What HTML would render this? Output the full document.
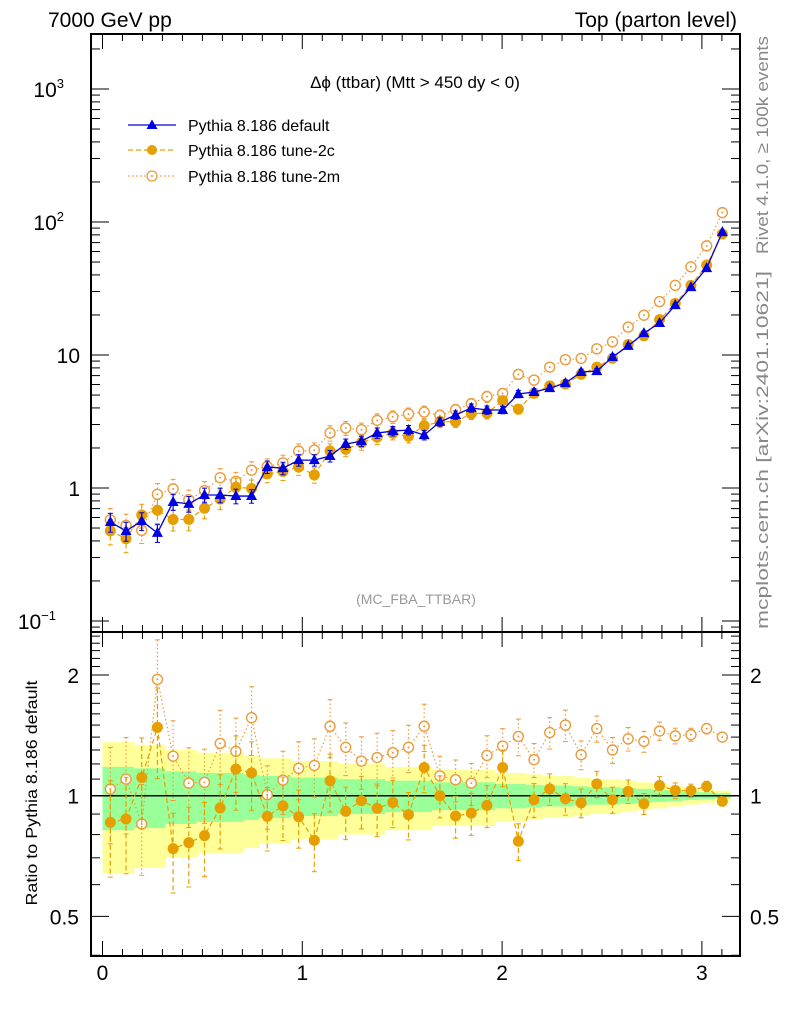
<!DOCTYPE html>
<html><head><meta charset="utf-8"><style>
html,body{margin:0;padding:0;background:#fff;}
svg{display:block;font-family:"Liberation Sans",sans-serif;}
</style></head><body>
<svg id="c" width="786" height="1024" viewBox="0 0 786 1024">
<text x="48" y="27" font-size="21">7000 GeV pp</text>
<text x="737" y="27" font-size="21" text-anchor="end">Top (parton level)</text>
<text x="415" y="88" font-size="17" text-anchor="middle">Δϕ (ttbar) (Mtt &gt; 450 dy &lt; 0)</text>
<text x="416" y="604" font-size="14" fill="#999" text-anchor="middle">(MC_FBA_TTBAR)</text>
<text transform="translate(768,145) rotate(-90)" font-size="17" fill="#888" text-anchor="middle" textLength="218" lengthAdjust="spacingAndGlyphs">Rivet 4.1.0, ≥ 100k events</text>
<text transform="translate(768,450) rotate(-90)" font-size="17" fill="#888" text-anchor="middle" textLength="358" lengthAdjust="spacingAndGlyphs">mcplots.cern.ch [arXiv:2401.10621]</text>
<text transform="translate(37,793) rotate(-90)" font-size="16" text-anchor="middle" textLength="225" lengthAdjust="spacingAndGlyphs">Ratio to Pythia 8.186 default</text>
<g id="bands"></g>
<g id="marks"></g>
<g id="axes"></g>
<g>
<g>
<line x1="128" y1="125" x2="176" y2="125" stroke="#0000e0" stroke-width="1.3"/>
<polygon points="152,119.5 146.5,129 157.5,129" fill="#0000e0"/>
<text x="188" y="131" font-size="16">Pythia 8.186 default</text></g>
<g>
<line x1="128" y1="150" x2="176" y2="150" stroke="#e69f00" stroke-width="1.3" stroke-dasharray="5,3"/>
<circle cx="152" cy="150" r="5" fill="#e69f00"/>
<text x="188" y="156" font-size="16">Pythia 8.186 tune-2c</text></g>
<g>
<line x1="128" y1="176" x2="176" y2="176" stroke="#ec9b3c" stroke-width="1.2" stroke-dasharray="1.5,2.5"/>
<circle cx="152" cy="176" r="5" fill="#fff" stroke="#ec9b3c" stroke-width="1.3"/>
<circle cx="152" cy="176" r="1" fill="#ec9b3c"/>
<text x="188" y="182" font-size="16">Pythia 8.186 tune-2m</text></g>
</g>
</svg>
<script>
const nBins = 40;
const xMax = Math.PI;
const defaultVals = [0.555,0.475,0.565,0.46,0.785,0.76,0.886,0.886,0.87,0.87,1.44,1.41,1.62,1.62,1.74,2.14,2.25,2.59,2.68,2.73,2.50,3.14,3.54,4.0,3.86,3.86,5.09,5.27,5.64,6.15,7.45,7.57,9.66,11.7,14.6,17.4,23.7,32.4,45,84];
const ratio2c = [0.858,0.875,1.11,1.48,0.738,0.764,0.795,0.932,1.165,1.14,0.888,0.943,0.886,0.774,1.09,0.914,0.972,0.93,0.962,0.897,1.176,1.0,0.89,0.905,0.946,1.176,0.77,0.977,1.04,0.983,0.96,1.07,0.977,1.025,0.955,1.06,1.03,1.03,1.055,0.968];
const ratio2m = [1.039,1.10,0.85,1.95,1.255,1.075,1.08,1.35,1.29,1.565,1.006,1.094,1.17,1.19,1.49,1.32,1.22,1.245,1.28,1.32,1.49,1.12,1.096,1.075,1.26,1.33,1.405,1.23,1.437,1.50,1.265,1.47,1.30,1.386,1.365,1.45,1.41,1.42,1.47,1.40];
const relErr = [0.18,0.18,0.17,0.17,0.15,0.15,0.14,0.14,0.14,0.13,0.12,0.12,0.11,0.11,0.11,0.10,0.10,0.10,0.09,0.09,0.09,0.08,0.08,0.08,0.08,0.07,0.07,0.065,0.06,0.06,0.055,0.05,0.05,0.045,0.04,0.035,0.03,0.025,0.02,0.015];
const mainTicks = [{v:1000,t:"10",e:"3"},{v:100,t:"10",e:"2"},{v:10,t:"10",e:""},{v:1,t:"1",e:""},{v:0.1,t:"10",e:"−1"}];
const ratioTicks = [2,1,0.5];
const xTicks = [0,1,2,3];

const L=91,R=740,T=34,MB=632,RB=956;
const X0=102.5,XS=199.8;
const xs=v=>X0+XS*v;
const ym=v=>488-133*Math.log10(v);
const yr=v=>795.7-401*Math.log10(v);
const NS="http://www.w3.org/2000/svg";
function mk(tag,attrs,parent){const e=document.createElementNS(NS,tag);for(const k in attrs)e.setAttribute(k,attrs[k]);parent.appendChild(e);return e;}
const bands=document.getElementById('bands'),marks=document.getElementById('marks'),axes=document.getElementById('axes');
const bw=xMax/nBins;
const clipY=(y)=>Math.max(MB,Math.min(RB,y));
for(let i=0;i<nBins;i++){
  const x1=xs(i*bw),x2=xs((i+1)*bw),e=relErr[i];
  const yb=mk('rect',{x:x1,y:clipY(yr(1+2*e)),width:x2-x1+0.5,height:clipY(yr(Math.max(1-2*e,0.05)))-clipY(yr(1+2*e)),fill:'#ffff99'},bands);
  
  
  const gb=mk('rect',{x:x1,y:yr(1+e),width:x2-x1+0.5,height:yr(1-e)-yr(1+e),fill:'#99ff99'},bands);
  
  
}
mk('line',{x1:L,x2:R,y1:yr(1),y2:yr(1),stroke:'#000','stroke-width':1.5},bands);
function series(vals,yf,color,dash,kind,name,errScale){
  const g=mk('g',{},marks);
  
  
  let d='';
  vals.forEach((v,i)=>{const x=xs((i+0.5)*bw),y=yf(v);d+=(i?'L':'M')+x+','+y;});
  mk('path',{d:d,fill:'none',stroke:color,'stroke-width':kind==='tri'?1.3:1.2,'stroke-dasharray':dash},g);
  vals.forEach((v,i)=>{
    const x=xs((i+0.5)*bw),e=relErr[i]*errScale;
    const y1=yf(v*(1+e)),y2=yf(v*(1-e));
    mk('line',{x1:x,x2:x,y1:y1,y2:y2,stroke:color,'stroke-width':1.2,'stroke-dasharray':dash},g);
    mk('line',{x1:x-2.5,x2:x+2.5,y1:y1,y2:y1,stroke:color,'stroke-width':1},g);
    mk('line',{x1:x-2.5,x2:x+2.5,y1:y2,y2:y2,stroke:color,'stroke-width':1},g);
    const y=yf(v);let m;
    if(kind==='tri') m=mk('polygon',{points:`${x},${y-6} ${x-5.5},${y+4} ${x+5.5},${y+4}`,fill:color},g);
    else if(kind==='dot') m=mk('circle',{cx:x,cy:y,r:5.5,fill:color},g);
    else {m=mk('circle',{cx:x,cy:y,r:5,fill:'#fff',stroke:color,'stroke-width':1.4},g);mk('circle',{cx:x,cy:y,r:1,fill:color},g);}
    
    
  });
}
const v2m=defaultVals.map((v,i)=>v*ratio2m[i]);
const v2c=defaultVals.map((v,i)=>v*ratio2c[i]);
series(v2m,ym,'#ec9b3c','1.5,2.5','open','main-tune-2m',1.2);
series(v2c,ym,'#e69f00','5,3','dot','main-tune-2c',1.2);
series(defaultVals,ym,'#0000e0','','tri','main-default',0.9);
series(ratio2m,yr,'#ec9b3c','1.5,2.5','open','ratio-tune-2m',1.5);
series(ratio2c,yr,'#e69f00','5,3','dot','ratio-tune-2c',1.5);
mk('rect',{x:L,y:T,width:R-L,height:MB-T,fill:'none',stroke:'#000','stroke-width':2},axes);
mk('rect',{x:L,y:MB,width:R-L,height:RB-MB,fill:'none',stroke:'#000','stroke-width':2},axes);
for(let v=0;v<=3.15;v+=0.1){
  const x=xs(v),maj=Math.abs(v-Math.round(v))<0.01,len=maj?15:7;
  [[T,1],[MB,-1],[MB,1],[RB,-1]].forEach(([y,s])=>mk('line',{x1:x,x2:x,y1:y,y2:y+s*len,stroke:'#000','stroke-width':1},axes));
}
for(let d=-2;d<=3;d++)for(let k=1;k<10;k++){
  const v=k*Math.pow(10,d),y=ym(v);if(y<T||y>MB)continue;
  const len=k===1?18:9;
  mk('line',{x1:L,x2:L+len,y1:y,y2:y,stroke:'#000'},axes);
  mk('line',{x1:R,x2:R-len,y1:y,y2:y,stroke:'#000'},axes);
}
for(let v=0.4;v<=2.6;v+=0.1){
  const y=yr(v);if(y<MB||y>RB)continue;
  const maj=[0.5,1,2].some(t=>Math.abs(t-v)<0.01),len=maj?18:9;
  mk('line',{x1:L,x2:L+len,y1:y,y2:y,stroke:'#000'},axes);
  mk('line',{x1:R,x2:R-len,y1:y,y2:y,stroke:'#000'},axes);
}
mainTicks.forEach(t=>{
  const tx=mk('text',{x:t.e?70:80,y:ym(t.v)+8,'font-size':21,'text-anchor':'end'},axes);
  
  
  tx.textContent=t.t;
  if(t.e){const s=mk('tspan',{dy:-9,'font-size':13},tx);s.textContent=t.e;tx.setAttribute('x',t.e.length>1?56:64);tx.setAttribute('text-anchor','end');}
});
ratioTicks.forEach(v=>{
  [[79,'end'],[750,'start']].forEach(([x,a])=>{
    const tx=mk('text',{x:x,y:yr(v)+8,'font-size':21,'text-anchor':a},axes);
    
    
    tx.textContent=String(v);
  });
});
xTicks.forEach(v=>{
  const tx=mk('text',{x:xs(v),y:980,'font-size':21,'text-anchor':'middle'},axes);
  
  
  tx.textContent=String(v);
});
</script>
</body></html>
